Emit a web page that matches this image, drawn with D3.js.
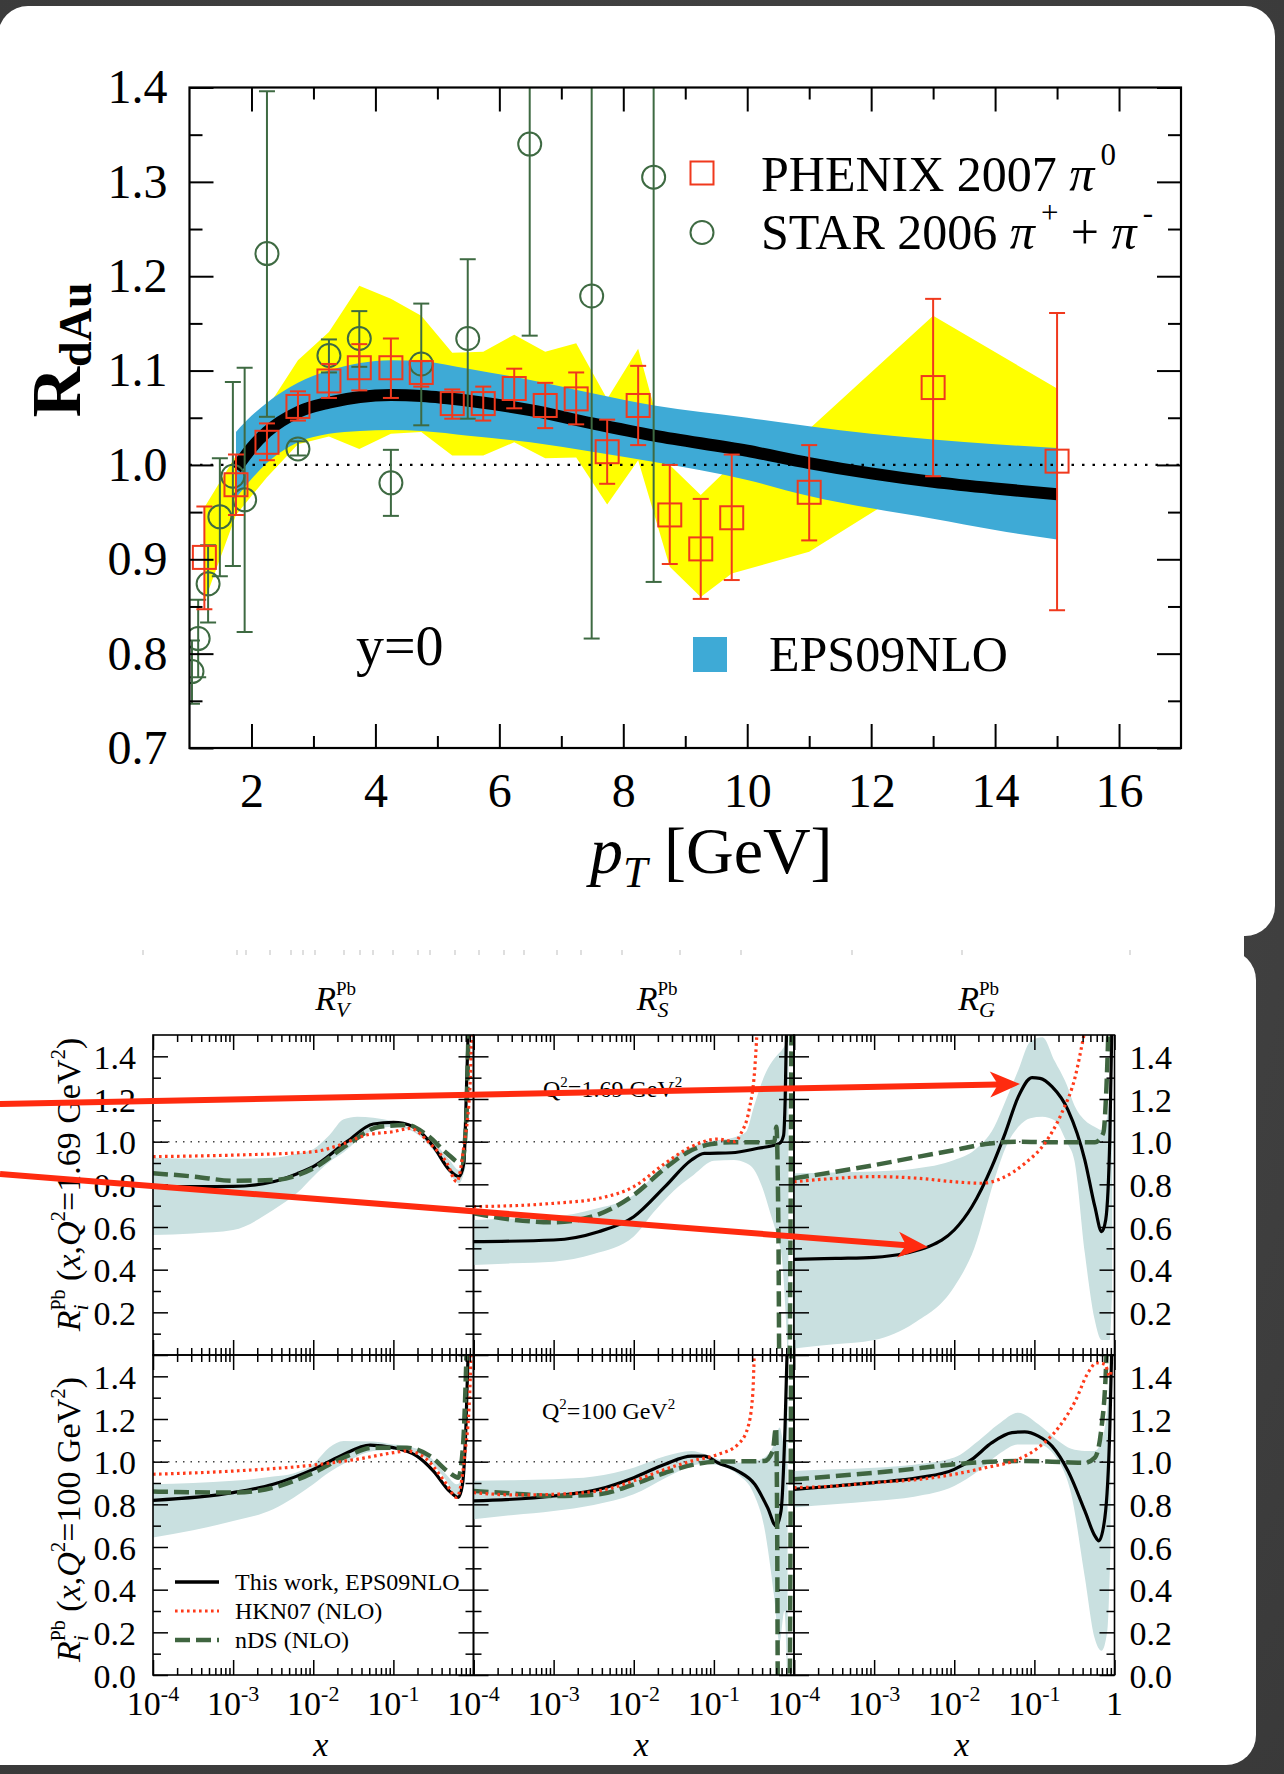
<!DOCTYPE html>
<html><head><meta charset="utf-8">
<script src="https://cdn.jsdelivr.net/npm/d3@7/dist/d3.min.js"></script>
<style>html,body{margin:0;padding:0;background:#404040;}svg{display:block;}</style>
</head><body>
<svg id="chart" width="1284" height="1774"></svg>
<script>
// ================= DATA : upper figure (R_dAu vs pT) =================
const ptTicks      = [2,4,6,8,10,12,14,16];
const ptMinorTicks = [3,5,7,9,11,13,15];
const rTicks       = [0.7,0.8,0.9,1.0,1.1,1.2,1.3,1.4];
const rMinorTicks  = [0.75,0.85,0.95,1.05,1.15,1.25,1.35];

const phenixPt = [1.24,1.75,2.25,2.75,3.25,3.74,4.25,4.74,5.24,5.74,6.24,6.74,7.24,7.74,8.24,8.75,9.25,9.75,11.0,13.0,15.0];
const phenixR  = [0.902,0.979,1.024,1.062,1.089,1.103,1.103,1.098,1.065,1.065,1.081,1.063,1.070,1.014,1.063,0.947,0.911,0.944,0.971,1.082,1.004];
const phenixHi = [0.956,1.011,1.044,1.078,1.107,1.128,1.134,1.110,1.080,1.083,1.102,1.087,1.098,1.048,1.105,1.000,0.964,1.011,1.021,1.176,1.161];
const phenixLo = [0.847,0.947,1.005,1.047,1.071,1.079,1.071,1.083,1.049,1.047,1.060,1.039,1.043,0.980,1.021,0.895,0.858,0.878,0.920,0.988,0.846];

const starPt = [1.04,1.14,1.30,1.49,1.70,1.89,2.25,2.75,3.25,3.74,4.25,4.74,5.49,6.49,7.49,8.49];
const starR  = [0.781,0.816,0.874,0.945,0.988,0.963,1.224,1.017,1.116,1.134,0.981,1.107,1.134,1.340,1.179,1.305];
const starHi = [0.814,0.857,0.915,1.007,1.088,1.103,1.396,1.025,1.133,1.163,1.016,1.171,1.218,1.45,1.45,1.45];
const starLo = [0.747,0.775,0.833,0.882,0.893,0.823,1.051,1.010,1.098,1.104,0.946,1.042,1.049,1.137,0.816,0.876];

const yellowPt = [1.24,1.75,2.25,2.75,3.25,3.74,4.25,4.74,5.24,5.74,6.24,6.74,7.24,7.74,8.24,8.75,9.25,9.75,11.0,13.0,15.0];
const yellowHi = [0.955,1.010,1.060,1.111,1.141,1.190,1.176,1.158,1.119,1.120,1.138,1.120,1.129,1.070,1.123,1.000,0.968,1.000,1.038,1.158,1.081];
const yellowLo = [0.855,0.947,0.987,1.022,1.030,1.017,1.033,1.035,1.010,1.010,1.024,1.007,1.008,0.958,1.005,0.892,0.860,0.885,0.908,0.990,0.990];

const epsPt     = [1.75,2.0,2.25,2.75,3.25,3.75,4.25,4.75,5.5,6.5,7.5,8.5,10,11,12,13,14,15];
const epsBandHi = [1.035,1.052,1.066,1.087,1.100,1.108,1.111,1.110,1.102,1.090,1.076,1.063,1.050,1.041,1.033,1.027,1.022,1.018];
const epsBandLo = [0.965,0.985,1.002,1.024,1.033,1.036,1.037,1.036,1.031,1.024,1.014,1.003,0.984,0.967,0.954,0.943,0.931,0.921];
const epsCentral= [0.996,1.018,1.035,1.056,1.066,1.072,1.074,1.073,1.068,1.058,1.044,1.031,1.015,1.002,0.991,0.982,0.975,0.969];

// ================= DATA : lower figure (R_i^Pb vs x) =================
// pairs are [log10(x), R]
const columnNames = ['V','S','G'];
const xDecades = [-4,-3,-2,-1];
const rTicksB = [0.0,0.2,0.4,0.6,0.8,1.0,1.2,1.4];
const rMinorB = [0.1,0.3,0.5,0.7,0.9,1.1,1.3];
const labelsTopRow = [0.2,0.4,0.6,0.8,1.0,1.2,1.4];
const labelsBottomRow = [0.0,0.2,0.4,0.6,0.8,1.0,1.2,1.4];

// --- Q2 = 1.69 GeV2 ---
const rvQ1Eps = [[-4,0.789],[-3.5,0.789],[-3,0.79],[-2.5,0.812],[-2.2,0.85],[-2,0.883],[-1.58,1.0],[-1.25,1.083],[-1,1.09],[-0.75,1.07],[-0.5,0.977],[-0.3,0.867],[-0.18,0.836],[-0.12,0.9],[-0.087,1.26],[-0.06,1.6]];
const rvQ1Hkn = [[-4,0.93],[-3,0.937],[-2,0.953],[-1.67,0.984],[-1.34,1.031],[-1,1.047],[-0.79,1.062],[-0.54,0.99],[-0.33,0.898],[-0.21,0.812],[-0.12,0.98],[-0.04,1.29],[-0.02,1.6]];
const rvQ1Nds = [[-4,0.852],[-3.48,0.836],[-3,0.817],[-2.5,0.82],[-2,0.875],[-1.58,0.984],[-1.17,1.07],[-0.83,1.078],[-0.58,1.031],[-0.33,0.945],[-0.15,0.898],[-0.09,1.1],[-0.06,1.6]];
const rvQ1BandX  = [-4,-3.5,-3,-2.5,-2.2,-2,-1.8,-1.62,-1.45,-1.25,-1.0,-0.75,-0.5,-0.3,-0.18,-0.1];
const rvQ1BandHi = [0.925,0.92,0.92,0.925,0.945,0.965,1.03,1.105,1.117,1.112,1.094,1.055,1.0,0.914,0.867,0.95];
const rvQ1BandLo = [0.563,0.57,0.586,0.68,0.76,0.836,0.905,0.95,1.005,1.055,1.07,1.047,0.96,0.852,0.805,0.88];

const rsQ1Eps = [[-4,0.531],[-3,0.539],[-2.44,0.578],[-2,0.648],[-1.61,0.789],[-1.28,0.914],[-1.12,0.945],[-0.78,0.948],[-0.45,0.969],[-0.18,0.992],[-0.13,1.03],[-0.11,1.2],[-0.09,1.6]];
const rsQ1Hkn = [[-4,0.695],[-3,0.711],[-2.44,0.734],[-2,0.789],[-1.61,0.898],[-1.28,0.977],[-0.95,1.012],[-0.74,1.0],[-0.66,1.04],[-0.56,1.15],[-0.49,1.34],[-0.45,1.6]];
const rsQ1Nds = [[-4,0.664],[-3.48,0.633],[-3,0.622],[-2.53,0.648],[-2,0.75],[-1.61,0.875],[-1.28,0.96],[-1.03,0.989],[-0.78,0.997],[-0.37,0.997],[-0.245,1.0],[-0.22,1.07],[-0.195,0.6],[-0.18,-0.2],[-0.06,-0.3],[-0.045,0.5],[-0.03,1.7]];
const rsQ1BandX  = [-4,-3.5,-3,-2.5,-2,-1.75,-1.5,-1.25,-1.0,-0.75,-0.6,-0.5,-0.4,-0.3,-0.2,-0.15,-0.1,-0.07];
const rsQ1BandHi = [0.633,0.64,0.648,0.683,0.75,0.84,0.93,0.98,1.005,1.02,1.045,1.165,1.28,1.36,1.41,1.43,1.47,1.6];
const rsQ1BandLo = [0.422,0.43,0.4375,0.473,0.555,0.67,0.77,0.845,0.91,0.914,0.90,0.87,0.79,0.67,0.54,0.45,0.16,-0.1];

const rgQ1Eps = [[-4,0.448],[-3.48,0.453],[-3,0.458],[-2.61,0.477],[-2.32,0.508],[-2,0.586],[-1.78,0.695],[-1.53,0.883],[-1.365,1.039],[-1.2,1.211],[-1.03,1.30],[-0.93,1.297],[-0.78,1.258],[-0.58,1.148],[-0.37,0.914],[-0.245,0.695],[-0.16,0.578],[-0.11,0.633],[-0.058,1.023],[-0.03,1.6]];
const rgQ1Hkn = [[-4,0.812],[-3.48,0.828],[-3,0.836],[-2.44,0.828],[-2,0.812],[-1.66,0.805],[-1.41,0.828],[-1.12,0.898],[-0.87,0.992],[-0.66,1.133],[-0.49,1.305],[-0.39,1.484],[-0.33,1.6]];
const rgQ1Nds = [[-4,0.828],[-3.48,0.859],[-3,0.89],[-2.44,0.93],[-2,0.96],[-1.61,0.989],[-1.2,1.0],[-0.78,0.997],[-0.245,0.997],[-0.14,1.04],[-0.1,1.26],[-0.07,1.6]];
const rgQ1BandX  = [-4,-3.5,-3,-2.5,-2,-1.75,-1.5,-1.35,-1.2,-1.05,-0.9,-0.75,-0.6,-0.5,-0.37,-0.25,-0.16,-0.1,-0.06,-0.03];
const rgQ1BandHi = [0.852,0.856,0.86,0.873,0.914,0.96,1.07,1.2,1.336,1.47,1.49,1.38,1.27,1.17,1.1,1.07,1.055,1.1,1.25,1.6];
const rgQ1BandLo = [0.031,0.05,0.07,0.15,0.32,0.5,0.82,0.98,1.07,1.11,1.117,1.10,1.0,0.91,0.477,0.17,0.07,0.07,0.07,0.3];

// --- Q2 = 100 GeV2 ---
const rvQ100Eps = [[-4,0.819],[-3,0.855],[-2.5,0.894],[-2,0.964],[-1.66,1.027],[-1.29,1.078],[-1,1.066],[-0.71,1.027],[-0.5,0.956],[-0.3,0.862],[-0.19,0.832],[-0.137,0.894],[-0.095,1.159],[-0.06,1.6]];
const rvQ100Hkn = [[-4,0.941],[-3,0.956],[-2,0.984],[-1.46,1.011],[-1,1.042],[-0.83,1.05],[-0.585,1.011],[-0.336,0.894],[-0.212,0.832],[-0.108,1.034],[-0.046,1.33],[-0.025,1.6]];
const rvQ100Nds = [[-4,0.86],[-3,0.855],[-2.5,0.878],[-2,0.948],[-1.58,1.026],[-1.25,1.065],[-0.83,1.065],[-0.54,1.026],[-0.3,0.948],[-0.19,0.925],[-0.13,1.08],[-0.08,1.6]];
const rvQ100BandX  = [-4,-3.5,-3,-2.5,-2.25,-2,-1.8,-1.62,-1.25,-1.0,-0.83,-0.58,-0.34,-0.21,-0.14,-0.1];
const rvQ100BandHi = [0.894,0.9,0.91,0.93,0.945,0.988,1.066,1.097,1.094,1.08,1.073,1.034,0.94,0.894,0.92,1.1];
const rvQ100BandLo = [0.644,0.678,0.722,0.777,0.83,0.894,0.95,0.99,1.05,1.055,1.05,1.011,0.91,0.832,0.86,1.05];

const rsQ100Eps = [[-4,0.816],[-3,0.839],[-2.44,0.87],[-2,0.925],[-1.61,0.988],[-1.28,1.026],[-1.12,1.026],[-0.95,0.995],[-0.7,0.956],[-0.49,0.894],[-0.33,0.785],[-0.224,0.699],[-0.162,0.769],[-0.112,1.16],[-0.08,1.6]];
const rsQ100Hkn = [[-4,0.855],[-3.48,0.844],[-3,0.847],[-2.44,0.863],[-2,0.91],[-1.61,0.964],[-1.28,1.003],[-0.95,1.034],[-0.7,1.081],[-0.577,1.159],[-0.515,1.315],[-0.49,1.6]];
const rsQ100Nds = [[-4,0.863],[-3.48,0.85],[-3,0.839],[-2.44,0.847],[-2,0.894],[-1.61,0.948],[-1.2,0.99],[-0.95,1.0],[-0.37,1.003],[-0.266,1.05],[-0.224,1.16],[-0.21,0.69],[-0.2,-0.2],[-0.06,-0.3],[-0.045,0.5],[-0.035,1.7]];
const rsQ100BandX  = [-4,-3.5,-3,-2.5,-2,-1.6,-1.28,-1.1,-0.78,-0.7,-0.5,-0.37,-0.25,-0.18,-0.12,-0.08];
const rsQ100BandHi = [0.91,0.913,0.917,0.93,0.972,1.026,1.05,1.034,0.995,0.995,1.003,1.02,1.08,1.16,1.08,1.6];
const rsQ100BandLo = [0.73,0.75,0.769,0.797,0.847,0.925,0.98,0.99,0.96,0.94,0.847,0.69,0.375,0.15,0.3,-0.1];

const rgQ100Eps = [[-4,0.87],[-3.48,0.886],[-3,0.902],[-2.44,0.925],[-2,0.964],[-1.78,1.011],[-1.53,1.089],[-1.28,1.136],[-1.12,1.14],[-0.95,1.12],[-0.78,1.073],[-0.58,0.956],[-0.37,0.769],[-0.245,0.652],[-0.195,0.629],[-0.12,0.738],[-0.058,1.16],[-0.03,1.6]];
const rgQ100Hkn = [[-4,0.878],[-3.48,0.886],[-3,0.902],[-2.44,0.917],[-2,0.941],[-1.61,0.972],[-1.2,1.011],[-0.95,1.066],[-0.7,1.159],[-0.49,1.284],[-0.33,1.417],[-0.224,1.463],[-0.12,1.456],[-0.058,1.40],[-0.04,1.43]];
const rgQ100Nds = [[-4,0.917],[-3.48,0.933],[-3,0.948],[-2.44,0.969],[-2,0.988],[-1.61,0.998],[-1.2,1.003],[-0.78,1.0],[-0.37,0.995],[-0.245,1.019],[-0.162,1.16],[-0.112,1.39],[-0.09,1.6]];
const rgQ100BandX  = [-4,-3.5,-3,-2.5,-2,-1.7,-1.45,-1.2,-0.95,-0.7,-0.54,-0.37,-0.25,-0.16,-0.09,-0.05];
const rgQ100BandHi = [0.956,0.964,0.972,0.986,1.019,1.097,1.175,1.229,1.175,1.097,1.06,1.05,1.05,1.1,1.25,1.5];
const rgQ100BandLo = [0.785,0.80,0.816,0.836,0.886,0.956,1.034,1.081,1.081,1.003,0.847,0.457,0.176,0.114,0.207,0.6];

const legendNames = ['This work, EPS09NLO','HKN07 (NLO)','nDS (NLO)'];

// ================= RENDER =================
const FONT = "'Liberation Serif','Times New Roman',Times,serif";
const svg = d3.select('#chart');
const defs = svg.append('defs');

const bg = defs.append('radialGradient').attr('id','bg').attr('cx','50%').attr('cy','45%').attr('r','80%');
bg.append('stop').attr('offset','0%').attr('stop-color','#4b4b4b');
bg.append('stop').attr('offset','100%').attr('stop-color','#383838');
svg.append('rect').attr('width',1284).attr('height',1774).attr('fill','url(#bg)');

svg.append('rect').attr('x',-2).attr('y',6).attr('width',1277).attr('height',930).attr('rx',30).attr('fill','#fff');
svg.append('rect').attr('x',-40).attr('y',950).attr('width',1296).attr('height',815).attr('rx',30).attr('fill','#fff');
svg.append('rect').attr('x',-2).attr('y',880).attr('width',1246).attr('height',110).attr('fill','#fff');

function rich(parent, x, y, segs, anchor){
  const t = parent.append('text').attr('x',x).attr('y',y).attr('font-family',FONT).attr('fill','#000');
  let cur = 0, prev = null, extra = 0;
  segs.forEach(s=>{
    const sh = s.sh||0;
    const sp = t.append('tspan').attr('font-size',s.s).attr('dy', cur - sh).text(s.t);
    if(s.it) sp.attr('font-style','italic');
    if(s.b) sp.attr('font-weight','bold');
    let dx = s.dx||0;
    if(s.stack && prev){
      const pw = prev.node().getComputedTextLength();
      dx -= pw;
      const cw = sp.node().getComputedTextLength();
      if(dx) sp.attr('dx',dx);
      extra = Math.max(0, pw - cw);
    } else {
      dx += extra; extra = 0;
      if(dx) sp.attr('dx',dx);
    }
    cur = sh; prev = sp;
  });
  if(anchor==='middle' || anchor==='end'){
    const bb = t.node().getBBox();
    const target = anchor==='middle' ? bb.x + bb.width/2 : bb.x + bb.width;
    t.attr('x', x + (x - target));
  }
  return t;
}
function styleTicks(sel, w){
  sel.call(a=>a.select('.domain').remove());
  sel.selectAll('.tick line').attr('stroke','#000').attr('stroke-width',w);
}

// ---------- Upper figure ----------
const TP = {l:189.5, r:1181, t:87.5, b:748};
const xT = d3.scaleLinear().domain([1,17]).range([TP.l,TP.r]);
const yT = d3.scaleLinear().domain([0.7,1.4]).range([TP.b,TP.t]);
defs.append('clipPath').attr('id','clipTop').append('rect')
  .attr('x',TP.l).attr('y',TP.t).attr('width',TP.r-TP.l).attr('height',TP.b-TP.t);
const gTop = svg.append('g');
const gTC = gTop.append('g').attr('clip-path','url(#clipTop)');

gTC.append('path').datum(d3.zip(yellowPt,yellowLo,yellowHi))
  .attr('d', d3.area().x(d=>xT(d[0])).y0(d=>yT(d[1])).y1(d=>yT(d[2])))
  .attr('fill','#ffff00');
gTC.append('path').datum(d3.zip(epsPt,epsBandLo,epsBandHi))
  .attr('d', d3.area().curve(d3.curveMonotoneX).x(d=>xT(d[0])).y0(d=>yT(d[1])).y1(d=>yT(d[2])))
  .attr('fill','#3eaad6');
gTC.append('line').attr('x1',xT(1)).attr('x2',xT(17)).attr('y1',yT(1)).attr('y2',yT(1))
  .attr('stroke','#000').attr('stroke-width',2.2).attr('stroke-dasharray','2.5,8');
gTC.append('path').datum(d3.zip(epsPt,epsCentral))
  .attr('d', d3.line().curve(d3.curveMonotoneX).x(d=>xT(d[0])).y(d=>yT(d[1])))
  .attr('fill','none').attr('stroke','#000').attr('stroke-width',12);

const GREEN = '#3e6a42', RED = '#f0391d';
const starData = d3.zip(starPt,starR,starLo,starHi);
const gStar = gTC.append('g').attr('stroke',GREEN).attr('stroke-width',2).attr('fill','none');
starData.forEach(d=>{
  gStar.append('line').attr('x1',xT(d[0])).attr('x2',xT(d[0])).attr('y1',yT(d[2])).attr('y2',yT(d[3]));
  [d[2],d[3]].forEach(v=>gStar.append('line').attr('x1',xT(d[0])-8).attr('x2',xT(d[0])+8).attr('y1',yT(v)).attr('y2',yT(v)));
  gStar.append('ellipse').attr('cx',xT(d[0])).attr('cy',yT(d[1])).attr('rx',11.5).attr('ry',11.5);
});
const phData = d3.zip(phenixPt,phenixR,phenixLo,phenixHi);
const gPh = gTC.append('g').attr('stroke',RED).attr('stroke-width',2).attr('fill','none');
phData.forEach(d=>{
  gPh.append('line').attr('x1',xT(d[0])).attr('x2',xT(d[0])).attr('y1',yT(d[2])).attr('y2',yT(d[3]));
  [d[2],d[3]].forEach(v=>gPh.append('line').attr('x1',xT(d[0])-8).attr('x2',xT(d[0])+8).attr('y1',yT(v)).attr('y2',yT(v)));
  gPh.append('rect').attr('x',xT(d[0])-11.5).attr('y',yT(d[1])-11.5).attr('width',23).attr('height',23);
});

const axB = gTop.append('g').attr('transform',`translate(0,${TP.b})`)
  .call(d3.axisBottom(xT).tickValues(ptTicks).tickSize(-24).tickPadding(25).tickFormat(d3.format('d')));
styleTicks(axB,2);
axB.selectAll('text').attr('font-family',FONT).attr('font-size',48).attr('fill','#000');
styleTicks(gTop.append('g').attr('transform',`translate(0,${TP.b})`).call(d3.axisBottom(xT).tickValues(ptMinorTicks).tickSize(-12).tickFormat('')),2);
styleTicks(gTop.append('g').attr('transform',`translate(0,${TP.t})`).call(d3.axisTop(xT).tickValues(ptTicks).tickSize(-24).tickFormat('')),2);
styleTicks(gTop.append('g').attr('transform',`translate(0,${TP.t})`).call(d3.axisTop(xT).tickValues(ptMinorTicks).tickSize(-12).tickFormat('')),2);
const axL = gTop.append('g').attr('transform',`translate(${TP.l},0)`)
  .call(d3.axisLeft(yT).tickValues(rTicks).tickSize(-24).tickPadding(22).tickFormat(d3.format('.1f')));
styleTicks(axL,2);
axL.selectAll('text').attr('font-family',FONT).attr('font-size',48).attr('fill','#000');
styleTicks(gTop.append('g').attr('transform',`translate(${TP.l},0)`).call(d3.axisLeft(yT).tickValues(rMinorTicks).tickSize(-13).tickFormat('')),2);
styleTicks(gTop.append('g').attr('transform',`translate(${TP.r},0)`).call(d3.axisRight(yT).tickValues(rTicks).tickSize(-24).tickFormat('')),2);
styleTicks(gTop.append('g').attr('transform',`translate(${TP.r},0)`).call(d3.axisRight(yT).tickValues(rMinorTicks).tickSize(-13).tickFormat('')),2);
gTop.append('rect').attr('x',TP.l).attr('y',TP.t).attr('width',TP.r-TP.l).attr('height',TP.b-TP.t)
  .attr('fill','none').attr('stroke','#000').attr('stroke-width',2.2);

gTop.append('rect').attr('x',690.5).attr('y',161.5).attr('width',23).attr('height',23).attr('fill','none').attr('stroke',RED).attr('stroke-width',2);
gTop.append('circle').attr('cx',702).attr('cy',232.5).attr('r',11.5).attr('fill','none').attr('stroke',GREEN).attr('stroke-width',2);
rich(gTop,761,190.5,[{t:'PHENIX 2007 ',s:50},{t:'π',s:50,it:true},{t:'0',s:31,sh:26,dx:6}]);
rich(gTop,761,249,[{t:'STAR 2006 ',s:50},{t:'π',s:50,it:true},{t:'+',s:31,sh:26,dx:6},{t:' + ',s:50},{t:'π',s:50,it:true},{t:'-',s:31,sh:26,dx:6}]);
rich(gTop,356,665,[{t:'y=0',s:56}]);
gTop.append('rect').attr('x',693).attr('y',637).attr('width',34).attr('height',35).attr('fill','#3eaad6');
rich(gTop,769,671,[{t:'EPS09NLO',s:50}]);
rich(gTop,590,873,[{t:'p',s:66,it:true},{t:'T',s:44,it:true,sh:-14},{t:' [GeV]',s:66}]);
const gRy = gTop.append('g').attr('transform','translate(80,350) rotate(-90)');
rich(gRy,0,0,[{t:'R',s:70,b:true},{t:'dAu',s:46,b:true,sh:-11}],'middle');

// ---------- Lower figure ----------
const PX = [153, 473.5, 794], PW = 320.5;
const PY = [1035, 1355], PH = 320;
const qBandSets = [
  [[rvQ1BandX,rvQ1BandLo,rvQ1BandHi],[rsQ1BandX,rsQ1BandLo,rsQ1BandHi],[rgQ1BandX,rgQ1BandLo,rgQ1BandHi]],
  [[rvQ100BandX,rvQ100BandLo,rvQ100BandHi],[rsQ100BandX,rsQ100BandLo,rsQ100BandHi],[rgQ100BandX,rgQ100BandLo,rgQ100BandHi]]
];
const qCurveSets = [
  [[rvQ1Eps,rvQ1Hkn,rvQ1Nds],[rsQ1Eps,rsQ1Hkn,rsQ1Nds],[rgQ1Eps,rgQ1Hkn,rgQ1Nds]],
  [[rvQ100Eps,rvQ100Hkn,rvQ100Nds],[rsQ100Eps,rsQ100Hkn,rsQ100Nds],[rgQ100Eps,rgQ100Hkn,rgQ100Nds]]
];
const BAND = '#c9e0e0', HKN = '#ff3a1a', NDS = '#3f6540';
const gLow = svg.append('g');

for(let r=0;r<2;r++){
  for(let c=0;c<3;c++){
    const x0=PX[c], y0=PY[r];
    const xB = d3.scaleLog().domain([1e-4,1]).range([x0,x0+PW]);
    const yB = d3.scaleLinear().domain([0,1.5]).range([y0+PH,y0]);
    const id = `clipP${r}${c}`;
    defs.append('clipPath').attr('id',id).append('rect').attr('x',x0).attr('y',y0).attr('width',PW).attr('height',PH);
    const g = gLow.append('g');
    const gc = g.append('g').attr('clip-path',`url(#${id})`);
    const bs = qBandSets[r][c];
    gc.append('path').datum(d3.zip(bs[0],bs[1],bs[2]))
      .attr('d', d3.area().curve(d3.curveMonotoneX).x(d=>xB(Math.pow(10,d[0]))).y0(d=>yB(d[1])).y1(d=>yB(d[2])))
      .attr('fill',BAND);
    gc.append('line').attr('x1',x0).attr('x2',x0+PW).attr('y1',yB(1)).attr('y2',yB(1))
      .attr('stroke','#444').attr('stroke-width',1.5).attr('stroke-dasharray','1.5,6');
    const ln = d3.line().curve(d3.curveMonotoneX).x(d=>xB(Math.pow(10,d[0]))).y(d=>yB(d[1]));
    const cs = qCurveSets[r][c];
    gc.append('path').datum(cs[0]).attr('d',ln).attr('fill','none').attr('stroke','#000').attr('stroke-width',3.2);
    gc.append('path').datum(cs[2]).attr('d',ln).attr('fill','none').attr('stroke',NDS).attr('stroke-width',4.5).attr('stroke-dasharray','15,6');
    gc.append('path').datum(cs[1]).attr('d',ln).attr('fill','none').attr('stroke',HKN).attr('stroke-width',3.2).attr('stroke-dasharray','2.6,3.4');

    const allX = xB.ticks();
    const isDec = v => Math.abs(Math.log10(v)-Math.round(Math.log10(v)))<1e-6;
    const majX = allX.filter(isDec), minX = allX.filter(v=>!isDec(v));
    styleTicks(g.append('g').attr('transform',`translate(0,${y0+PH})`).call(d3.axisBottom(xB).tickValues(majX).tickSize(-15).tickFormat('')),1.5);
    styleTicks(g.append('g').attr('transform',`translate(0,${y0+PH})`).call(d3.axisBottom(xB).tickValues(minX).tickSize(-7).tickFormat('')),1.5);
    styleTicks(g.append('g').attr('transform',`translate(0,${y0})`).call(d3.axisTop(xB).tickValues(majX).tickSize(-15).tickFormat('')),1.5);
    styleTicks(g.append('g').attr('transform',`translate(0,${y0})`).call(d3.axisTop(xB).tickValues(minX).tickSize(-7).tickFormat('')),1.5);
    styleTicks(g.append('g').attr('transform',`translate(${x0},0)`).call(d3.axisLeft(yB).tickValues(rTicksB).tickSize(-15).tickFormat('')),1.5);
    styleTicks(g.append('g').attr('transform',`translate(${x0},0)`).call(d3.axisLeft(yB).tickValues(rMinorB).tickSize(-8).tickFormat('')),1.5);
    styleTicks(g.append('g').attr('transform',`translate(${x0+PW},0)`).call(d3.axisRight(yB).tickValues(rTicksB).tickSize(-15).tickFormat('')),1.5);
    styleTicks(g.append('g').attr('transform',`translate(${x0+PW},0)`).call(d3.axisRight(yB).tickValues(rMinorB).tickSize(-8).tickFormat('')),1.5);
    g.append('rect').attr('x',x0).attr('y',y0).attr('width',PW).attr('height',PH).attr('fill','none').attr('stroke','#000').attr('stroke-width',1.6);

    const labs = r===0 ? labelsTopRow : labelsBottomRow;
    if(c===0) labs.forEach(v=>g.append('text').attr('x',x0-17).attr('y',yB(v)).attr('dy','0.37em').attr('text-anchor','end')
      .attr('font-family',FONT).attr('font-size',34).text(d3.format('.1f')(v)));
    if(c===2) labs.forEach(v=>g.append('text').attr('x',x0+PW+15).attr('y',yB(v)).attr('dy','0.37em')
      .attr('font-family',FONT).attr('font-size',34).text(d3.format('.1f')(v)));
    if(r===1){
      xDecades.forEach(e=>rich(g,xB(Math.pow(10,e)),1715,[{t:'10',s:34},{t:String(e),s:22,sh:14}],'middle'));
      if(c===2) rich(g,xB(1),1715,[{t:'1',s:34}],'middle');
      rich(g,x0+PW/2+7,1756,[{t:'x',s:34,it:true}],'middle');
    }
    if(r===0){
      rich(g,x0+PW/2+2+c,1010,[{t:'R',s:34,it:true},{t:'Pb',s:19,sh:15},{t:columnNames[c],s:22,it:true,sh:-7,stack:true}]);
    }
  }
}
rich(gLow,543,1097,[{t:'Q',s:24},{t:'2',s:15,sh:10},{t:'=1.69 GeV',s:24},{t:'2',s:15,sh:10}]);
rich(gLow,542,1419,[{t:'Q',s:24},{t:'2',s:15,sh:10},{t:'=100 GeV',s:24},{t:'2',s:15,sh:10}]);
[['1.69',1185],['100',1520]].forEach(([q,cy])=>{
  const gg = gLow.append('g').attr('transform',`translate(80,${cy}) rotate(-90)`);
  rich(gg,0,0,[{t:'R',s:34,it:true},{t:'Pb',s:20,sh:15},{t:'i',s:22,it:true,sh:-8,stack:true},
    {t:' (',s:34,sh:0},{t:'x',s:34,it:true},{t:',',s:34},{t:'Q',s:34,it:true},{t:'2',s:21,sh:15},{t:'='+q+' GeV',s:34},{t:'2',s:21,sh:15},{t:')',s:34}],'middle');
});
const legY = [1582,1611,1640];
const legStyles = [['#000',3.5,null],[HKN,3.2,'2.6,3.4'],[NDS,4.5,'15,6']];
legendNames.forEach((n,i)=>{
  const l = gLow.append('line').attr('x1',175).attr('x2',219).attr('y1',legY[i]).attr('y2',legY[i])
    .attr('stroke',legStyles[i][0]).attr('stroke-width',legStyles[i][1]);
  if(legStyles[i][2]) l.attr('stroke-dasharray',legStyles[i][2]);
  rich(gLow,235,legY[i]+8,[{t:n,s:24}]);
});

const faintMarks = [143,237,246,270,291,303,315,344,360,373,393,418,430,455,479,504,524,557,581,622,680,741,852,962,1130];
faintMarks.forEach(x=>svg.append('line').attr('x1',x).attr('x2',x).attr('y1',950).attr('y2',955).attr('stroke','#d4d4d4').attr('stroke-width',1.5));

const arrows = [{x1:0,y1:1104,x2:1020,y2:1084},{x1:0,y1:1174,x2:928,y2:1247}];
const ARC = '#ff2b0f';
arrows.forEach(a=>{
  const dx=a.x2-a.x1, dy=a.y2-a.y1, L=Math.hypot(dx,dy), ux=dx/L, uy=dy/L, nx=-uy, ny=ux;
  const hl=30, hw=13, notch=8;
  const bx=a.x2-hl*ux, by=a.y2-hl*uy, mx=a.x2-(hl-notch)*ux, my=a.y2-(hl-notch)*uy;
  svg.append('line').attr('x1',a.x1).attr('y1',a.y1).attr('x2',mx).attr('y2',my).attr('stroke',ARC).attr('stroke-width',6);
  svg.append('path').attr('d',`M${a.x2},${a.y2}L${bx+hw*nx},${by+hw*ny}L${mx},${my}L${bx-hw*nx},${by-hw*ny}Z`).attr('fill',ARC);
});
</script></body></html>
